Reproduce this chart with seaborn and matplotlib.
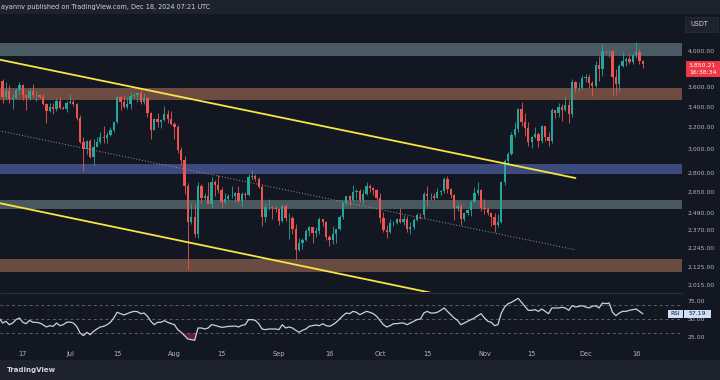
import matplotlib
matplotlib.use('Agg')
import matplotlib.pyplot as plt
import matplotlib.dates as mdates
from matplotlib.patches import Rectangle
from matplotlib.ticker import NullLocator, NullFormatter
import numpy as np
import pandas as pd
import seaborn as sns

# ETH/USDT daily candles, 10 Jun - 18 Dec 2024
dates = pd.date_range('2024-06-10', '2024-12-18', freq='D')
first_open = 3707

highs = [3710, 3680, 3655, 3617, 3530, 3590, 3650, 3625, 3525, 3590, 3625, 3555, 3530, 3522, 3435, 3430, 3430, 3480, 3490, 3405, 3450,
         3525, 3470, 3430, 3310, 3110, 3080, 3085, 3090, 3110, 3150, 3210, 3150, 3200, 3250, 3500, 3500, 3515, 3490, 3545, 3540, 3545, 3565, 3540, 3490, 3345, 3290, 3330, 3275, 3400, 3365, 3350,
         3245, 3215, 3015, 2935, 2715, 2560, 2550, 2720, 2710, 2640, 2720, 2760, 2740, 2780, 2680, 2635, 2630, 2690, 2645, 2690, 2645, 2645, 2790, 2820, 2790, 2760, 2705, 2560, 2590, 2540, 2535,
         2525, 2555, 2550, 2490, 2465, 2410, 2310, 2310, 2375, 2390, 2385, 2385, 2460, 2445, 2430, 2330, 2390, 2375, 2470, 2570, 2615, 2620, 2700, 2670, 2670, 2660, 2725, 2705, 2680, 2665,
         2640, 2495, 2400, 2440, 2430, 2450, 2520, 2470, 2465, 2420, 2450, 2485, 2490, 2645, 2690, 2640, 2640, 2675, 2660, 2760, 2770, 2675, 2630, 2560, 2560, 2495, 2515, 2580, 2680, 2720, 2665,
         2590, 2530, 2495, 2490, 2480, 2730, 2910, 2975, 3150, 3250, 3380, 3445, 3330, 3245, 3115, 3200, 3150, 3220, 3210, 3150, 3380, 3365, 3430, 3425, 3500, 3460, 3680, 3665, 3650, 3730,
         3735, 3740, 3665, 3885, 3945, 4085, 4015, 4010, 4010, 3790, 3845, 3995, 3935, 3965, 3960, 4105, 4020, 3890]
lows = [3645, 3435, 3465, 3433, 3370, 3470, 3530, 3460, 3360, 3465, 3490, 3450, 3485, 3410, 3240, 3345, 3320, 3355, 3375, 3370, 3345,
        3420, 3400, 3265, 3050, 2810, 2960, 2925, 2865, 3020, 3040, 3050, 3050, 3120, 3150, 3235, 3360, 3380, 3375, 3370, 3480, 3445, 3420, 3425, 3300, 3090, 3170, 3200, 3195, 3260, 3235, 3220,
        3085, 2965, 2860, 2630, 2110, 2410, 2315, 2310, 2560, 2580, 2550, 2525, 2610, 2640, 2520, 2550, 2580, 2600, 2565, 2560, 2540, 2590, 2610, 2740, 2735, 2675, 2390, 2420, 2510, 2440, 2495,
        2400, 2420, 2430, 2305, 2335, 2165, 2225, 2240, 2290, 2325, 2280, 2320, 2340, 2390, 2300, 2255, 2270, 2275, 2365, 2440, 2545, 2535, 2575, 2590, 2570, 2555, 2620, 2645, 2625, 2585,
        2415, 2350, 2310, 2345, 2395, 2405, 2415, 2400, 2350, 2340, 2375, 2430, 2440, 2450, 2535, 2585, 2580, 2595, 2625, 2640, 2640, 2600, 2435, 2500, 2400, 2430, 2470, 2465, 2565, 2620, 2500,
        2480, 2475, 2395, 2355, 2385, 2415, 2700, 2860, 2950, 3110, 3150, 3210, 3120, 3030, 3010, 3100, 3020, 3050, 3070, 3030, 3055, 3290, 3300, 3255, 3350, 3240, 3300, 3550, 3560, 3580,
        3650, 3590, 3500, 3600, 3665, 3715, 3960, 3935, 3520, 3515, 3550, 3820, 3830, 3855, 3850, 3920, 3855, 3800]
closes = [3667, 3498, 3561, 3469, 3480, 3565, 3620, 3510, 3482, 3560, 3515, 3520, 3490, 3420, 3355, 3390, 3370, 3450, 3380, 3375, 3435,
          3440, 3420, 3290, 3060, 3000, 3070, 2930, 3020, 3065, 3105, 3100, 3130, 3170, 3245, 3490, 3445, 3390, 3420, 3505, 3515, 3535, 3440, 3480, 3335, 3175, 3275, 3250, 3270, 3320, 3280, 3230,
          3200, 2990, 2905, 2690, 2420, 2460, 2340, 2690, 2600, 2610, 2555, 2720, 2700, 2660, 2570, 2590, 2615, 2615, 2640, 2575, 2630, 2625, 2765, 2770, 2750, 2685, 2460, 2530, 2530, 2525, 2515,
          2430, 2535, 2450, 2450, 2370, 2230, 2275, 2300, 2360, 2385, 2345, 2360, 2440, 2420, 2315, 2295, 2340, 2370, 2460, 2560, 2610, 2580, 2645, 2655, 2580, 2630, 2695, 2675, 2660, 2600,
          2450, 2365, 2350, 2415, 2415, 2440, 2420, 2440, 2370, 2385, 2435, 2475, 2470, 2630, 2610, 2615, 2600, 2645, 2650, 2745, 2665, 2620, 2525, 2535, 2440, 2485, 2505, 2570, 2640, 2660, 2520,
          2515, 2490, 2460, 2400, 2420, 2720, 2895, 2960, 3130, 3185, 3370, 3245, 3190, 3060, 3110, 3135, 3075, 3205, 3105, 3075, 3360, 3330, 3395, 3360, 3415, 3325, 3655, 3590, 3590, 3700,
          3710, 3640, 3610, 3840, 3790, 4000, 3995, 4005, 3710, 3625, 3830, 3880, 3905, 3875, 3955, 3985, 3880, 3850.21]

rsi = [51.4, 44.4, 46.8, 42.1, 44.4, 49.1, 51.4, 45.4, 43.5, 48.1, 45.4, 45.4, 44.4, 42.1, 38.9, 40.7, 39.8, 44.4, 40.7, 42.1,
       45.4, 45.8, 44.4, 39.8, 30.6, 26.9, 31.5, 28.2, 32.9, 36.1, 38.9, 39.8, 42.1, 45.4, 51.4, 59.3, 57.4, 55.6, 57.4, 59.3,
       60.6, 60.2, 57.4, 58.3, 53.7, 46.8, 42.1, 45.4, 45.4,
       47.7, 45.4, 43.5, 42.1, 35.2, 31.5, 26.9, 22.2, 21.3, 20.4, 37.5, 37.5, 36.1, 37.5, 42.1, 41.2, 39.8, 38.4, 38.9, 39.8,
       39.8, 40.3, 38.9, 41.2, 42.1, 49.1, 49.1, 48.1, 43.5, 36.1, 35.2, 36.1, 36.1, 36.1, 35.2, 42.1, 37.5, 38.9, 37.5, 34.3,
       31.5, 34.3, 36.1, 39.8, 40.7, 41.7, 40.7, 43.5, 40.7,
       39.8, 42.1, 45.4, 50.0, 54.6, 58.3, 57.4, 60.6, 59.3, 56.0, 58.3, 60.6, 59.3, 57.4, 53.7, 48.1, 42.1, 38.9, 40.7, 43.5,
       43.5, 44.4, 44.4, 42.1, 44.4, 46.8, 49.1, 50.0, 58.3, 60.6, 58.3, 58.3, 59.3, 62.0, 65.3, 60.6, 56.0, 51.4, 48.1, 42.1,
       44.4, 46.8, 49.1, 51.4, 54.6, 57.4, 51.4, 46.8, 45.4,
       40.7, 42.1, 58.3, 66.7, 71.3, 73.1, 75.9, 78.7, 73.1, 67.6, 62.0, 62.0, 63.0, 60.6, 63.9, 60.6, 57.4, 65.3, 65.3, 65.3,
       66.2, 65.3, 62.0, 68.5, 66.7, 67.6, 68.5, 66.7, 65.3, 67.6, 68.5, 65.3, 72.2, 71.3, 72.2, 59.3, 54.6, 58.3, 60.6, 60.6,
       62.0, 63.0, 63.9, 60.6, 57.19]

# zones and drawings
zone_low = [3942, 3465, 2787, 2515, 2093]
zone_high = [4095, 3590, 2870, 2585, 2173]
zone_colors = ['#4a5a64', '#6e4b41', '#3c4a7d', '#48585c', '#694b41']
upper_line_dates = ['2024-06-10', '2024-11-28']
upper_line_prices = [3900, 2755]
lower_line_dates = ['2024-06-10', '2024-10-16']
lower_line_prices = [2560, 1968]
mid_line_dates = ['2024-06-10', '2024-11-28']
mid_line_prices = [3165, 2232]

price_ticks = [2015, 2125, 2245, 2370, 2490, 2650, 2800, 3000, 3200, 3400, 3600, 4000]
rsi_ticks = [25, 50, 75]
date_ticks = ['2024-06-17', '2024-07-01', '2024-07-15', '2024-08-01', '2024-08-15', '2024-09-01', '2024-09-16',
              '2024-10-01', '2024-10-15', '2024-11-01', '2024-11-15', '2024-12-01', '2024-12-16']
date_labels = ['17', 'Jul', '15', 'Aug', '15', 'Sep', '16', 'Oct', '15', 'Nov', '15', 'Dec', '16']

BG = '#131722'
BAR = '#1e222d'
TXT = '#b2b5be'
UP = '#26a69a'
DOWN = '#ef5350'
YELLOW = '#f7e546'

sns.set_theme(style='dark', rc={'axes.facecolor': BG, 'figure.facecolor': BG})
plt.rcParams['font.family'] = ['DejaVu Sans']

W, H = 720, 380
fig = plt.figure(figsize=(7.2, 3.8), dpi=100)
fig.patch.set_facecolor(BG)


def px(x0, y0, x1, y1):
    return [x0 / W, 1 - y1 / H, (x1 - x0) / W, (y1 - y0) / H]


ax = fig.add_axes(px(0, 14, 682, 292))
ax_rsi = fig.add_axes(px(0, 293, 682, 347))

x = mdates.date2num(dates)
o = np.r_[first_open, closes[:-1]]
c = np.array(closes)
colors = np.where(c >= o, UP, DOWN)

for lo, hi, col in zip(zone_low, zone_high, zone_colors):
    ax.axhspan(lo, hi, color=col, lw=0, zorder=1)

ax.vlines(x, lows, highs, colors=colors, lw=0.6, zorder=3)
ax.bar(x, np.abs(c - o), bottom=np.minimum(o, c), width=0.68, color=colors, lw=0, zorder=4)

ax.plot(mdates.date2num(pd.to_datetime(upper_line_dates)), upper_line_prices, color=YELLOW, lw=1.3, zorder=5)
ax.plot(mdates.date2num(pd.to_datetime(lower_line_dates)), lower_line_prices, color=YELLOW, lw=1.3, zorder=5)
ax.plot(mdates.date2num(pd.to_datetime(mid_line_dates)), mid_line_prices, color='#9598a1', lw=0.7,
        ls=(0, (1, 2)), zorder=5)

x0 = x[0] + 0.24
x1 = x0 + 682 / 3.37
ax.set_yscale('log')
ax.set_ylim(1972, 4458)
ax.set_xlim(x0, x1)
ax.yaxis.tick_right()
ax.set_yticks(price_ticks)
ax.set_yticklabels([f'{p:,.2f}' for p in price_ticks])
ax.yaxis.set_minor_locator(NullLocator())
ax.yaxis.set_minor_formatter(NullFormatter())
ax.tick_params(axis='y', length=0, pad=4.3, labelsize=4.4, labelcolor=TXT)
ax.set_xticks([])
ax.grid(False)
for s in ax.spines.values():
    s.set_visible(False)

# RSI panel
rsi_arr = np.array(rsi)
for lvl in [70, 50, 30]:
    ax_rsi.axhline(lvl, color='#5d606b', lw=0.7, ls=(0, (3, 3)), zorder=1)
ax_rsi.fill_between(x, rsi_arr, 30, where=rsi_arr < 30, interpolate=True, color='#f23645', alpha=0.35, lw=0)
sns.lineplot(x=x, y=rsi_arr, ax=ax_rsi, color='#c9d1e3', lw=0.9, zorder=3)
ax_rsi.set_xlim(x0, x1)
ax_rsi.set_ylim(11.1, 86.1)
ax_rsi.yaxis.tick_right()
ax_rsi.set_yticks(rsi_ticks)
ax_rsi.set_yticklabels([f'{v:.2f}' for v in rsi_ticks])
ax_rsi.set_xticks(mdates.date2num(pd.to_datetime(date_ticks)))
ax_rsi.set_xticklabels(date_labels)
ax_rsi.tick_params(axis='y', length=0, pad=4.3, labelsize=4.4, labelcolor=TXT)
ax_rsi.tick_params(axis='x', length=0, pad=3, labelsize=4.8, labelcolor=TXT)
ax_rsi.set_xlabel('')
ax_rsi.set_ylabel('')
ax_rsi.grid(False)
for s in ax_rsi.spines.values():
    s.set_visible(False)

# panel separator, header, footer
fig.add_artist(plt.Line2D([0, 682 / W], [1 - 292.5 / H] * 2, color='#2a2e39', lw=0.8))
fig.add_artist(Rectangle((0, 1 - 14 / H), 1, 14 / H, transform=fig.transFigure, color=BAR, lw=0))
fig.text(1 / W, 1 - 7 / H, 'ayannv published on TradingView.com, Dec 18, 2024 07:21 UTC',
         color='#d1d4dc', fontsize=4.7, va='center', ha='left')
fig.add_artist(Rectangle((0, 0), 1, 20 / H, transform=fig.transFigure, color=BAR, lw=0))
fig.text(7 / W, 10 / H, 'TradingView', color='#d1d4dc', fontsize=5, fontweight='bold', va='center')

# right side labels
fig.add_artist(Rectangle((685 / W, 1 - 32 / H), 33 / W, 15 / H, transform=fig.transFigure,
                         facecolor=BAR, edgecolor='#2a2e39', lw=0.5))
fig.text(690 / W, 1 - 24.5 / H, 'USDT', color='#d1d4dc', fontsize=4.7, va='center')

fig.add_artist(Rectangle((686 / W, 1 - 77 / H), 34 / W, 16 / H, transform=fig.transFigure,
                         color='#f23645', lw=0))
fig.text(689 / W, 1 - 65 / H, '3,850.21', color='white', fontsize=4.4, va='center')
fig.text(689 / W, 1 - 73 / H, '16:38:34', color='white', fontsize=4.4, va='center')

fig.add_artist(Rectangle((668 / W, 1 - 317.5 / H), 15 / W, 7.5 / H, transform=fig.transFigure,
                         color='#cfe0f5', lw=0))
fig.text(675.5 / W, 1 - 313.8 / H, 'RSI', color='#131722', fontsize=4.2, va='center', ha='center')
fig.add_artist(Rectangle((684 / W, 1 - 317.5 / H), 27 / W, 7.5 / H, transform=fig.transFigure,
                         color='#cfe0f5', lw=0))
fig.text(697.5 / W, 1 - 313.8 / H, '57.19', color='#131722', fontsize=4.4, va='center', ha='center')

fig.savefig('out.png', dpi=100, facecolor=BG)
